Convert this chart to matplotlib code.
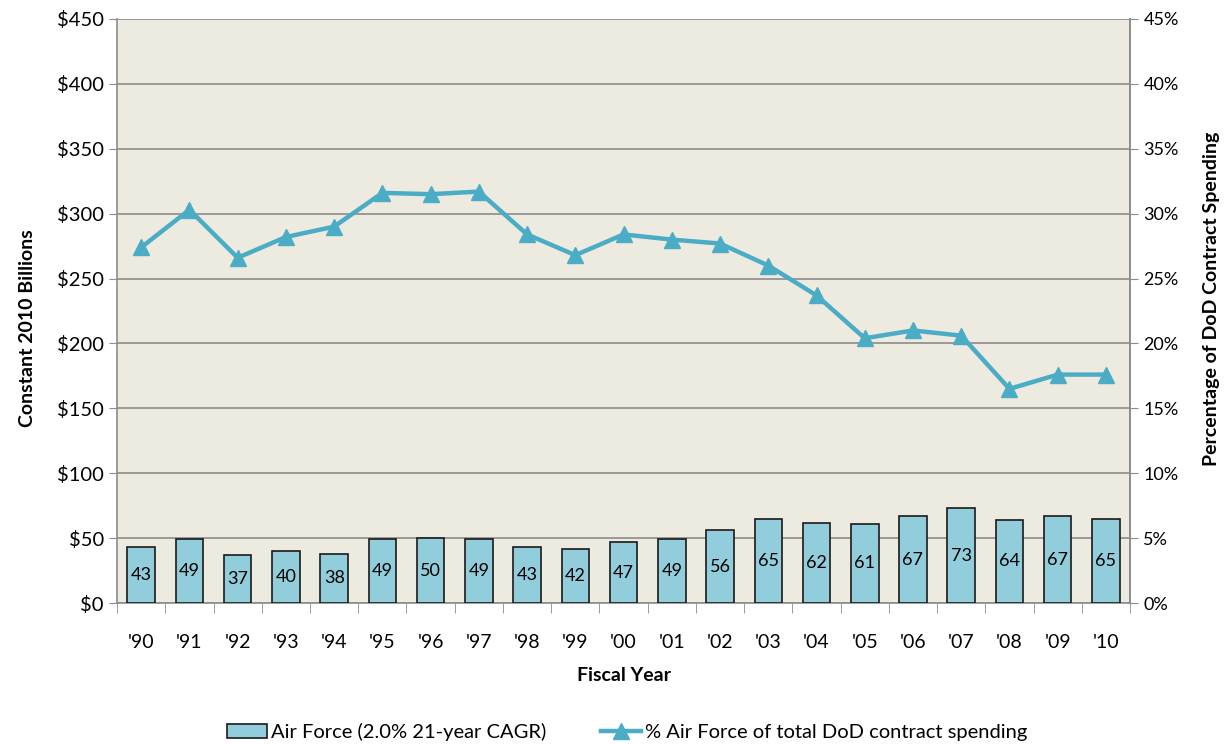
import numpy as np
import matplotlib
matplotlib.use("Agg")
import matplotlib.pyplot as plt
from matplotlib.ticker import FuncFormatter, FixedLocator

plt.rcParams['font.family'] = ['Lato', 'DejaVu Sans']

years = ["'90", "'91", "'92", "'93", "'94", "'95", "'96", "'97", "'98", "'99", "'00",
         "'01", "'02", "'03", "'04", "'05", "'06", "'07", "'08", "'09", "'10"]
air_force = [43, 49, 37, 40, 38, 49, 50, 49, 43, 42, 47, 49, 56, 65, 62, 61, 67, 73, 64, 67, 65]
pct_dod = [27.4, 30.3, 26.6, 28.2, 29.0, 31.6, 31.5, 31.7, 28.4, 26.8, 28.4,
           28.0, 27.7, 26.0, 23.7, 20.4, 21.0, 20.6, 16.5, 17.6, 17.6]

bar_color = '#92CDDC'
line_color = '#4BACC6'
bg_color = '#EDEAE0'
grid_color = '#8C8C8C'

fig = plt.figure(figsize=(12.27, 7.44), dpi=100)
ax = fig.add_axes([0.0954, 0.1895, 0.8256, 0.785])
ax.set_facecolor(bg_color)

x = np.arange(len(years))
bars = ax.bar(x, air_force, width=0.57, color=bar_color, edgecolor='#1a1a1a',
              linewidth=1.2, zorder=3, label='Air Force (2.0% 21-year CAGR)')
for xi, v in zip(x, air_force):
    ax.text(xi, v / 2, str(v), ha='center', va='center', fontsize=13, zorder=4)

ax.set_xlim(-0.5, len(years) - 0.5)
ax.set_ylim(0, 450)
ax.set_yticks(np.arange(0, 451, 50))
ax.yaxis.set_major_formatter(FuncFormatter(lambda v, p: f'${v:.0f}'))
ax.grid(axis='y', color=grid_color, linewidth=1.2, zorder=1)
ax.set_axisbelow(True)

ax.set_xticks(x)
ax.set_xticklabels(years, fontsize=14)
ax.xaxis.set_minor_locator(FixedLocator(np.arange(-0.5, len(years), 1)))
ax.tick_params(axis='x', which='major', length=0, pad=22)
ax.tick_params(axis='x', which='minor', length=7, color=grid_color)
ax.tick_params(axis='y', labelsize=14.5, length=6, color=grid_color)

ax.spines['top'].set_visible(False)
for s in ['left', 'bottom', 'right']:
    ax.spines[s].set_color(grid_color)
    ax.spines[s].set_linewidth(1.2)

ax.set_ylabel('Constant 2010 Billions', fontsize=14, fontweight='bold')
ax.yaxis.set_label_coords(-0.08, 0.47)
ax.set_xlabel('Fiscal Year', fontsize=14, fontweight='bold', labelpad=12)

ax2 = ax.twinx()
line, = ax2.plot(x, pct_dod, color=line_color, linewidth=3.2, marker='^',
                 markersize=11, zorder=5,
                 label='% Air Force of total DoD contract spending')
ax2.set_ylim(0, 45)
ax2.set_yticks(np.arange(0, 46, 5))
ax2.yaxis.set_major_formatter(FuncFormatter(lambda v, p: f'{v:.0f}%'))
ax2.tick_params(axis='y', labelsize=13, length=6, color=grid_color)
ax2.set_ylabel('Percentage of DoD Contract Spending', fontsize=14,
               fontweight='bold')
ax2.yaxis.set_label_coords(1.072, 0.52)
for s in ['top', 'left', 'bottom']:
    ax2.spines[s].set_visible(False)
ax2.spines['right'].set_color(grid_color)
ax2.spines['right'].set_linewidth(1.2)

fig.legend(handles=[bars, line], loc='center', ncol=2, frameon=False,
           fontsize=14.5, bbox_to_anchor=(0.511, 0.016), columnspacing=2.7,
           handlelength=2.0, handletextpad=0.2)

plt.savefig('out.png', dpi=100)
plt.close()
